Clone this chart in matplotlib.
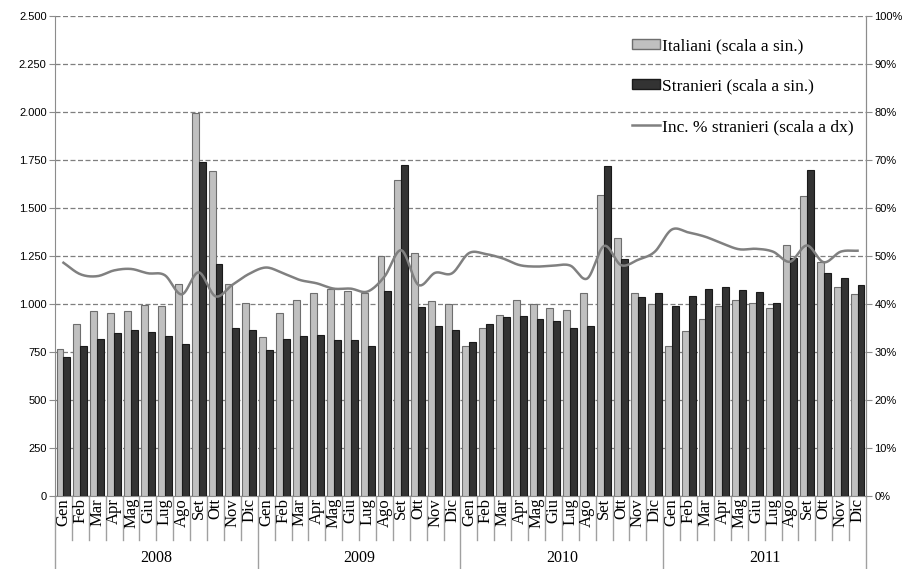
import numpy as np
import matplotlib
matplotlib.use("Agg")
import matplotlib.pyplot as plt
from matplotlib.patches import Patch
from matplotlib.lines import Line2D
from matplotlib.ticker import FuncFormatter, MultipleLocator
import matplotlib.transforms as mtransforms

years = ["2008", "2009", "2010", "2011"]
months = ["Gen", "Feb", "Mar", "Apr", "Mag", "Giu", "Lug", "Ago", "Set", "Ott", "Nov", "Dic"]

italiani = [
    764, 894, 963, 955, 963, 995, 988, 1106, 1993, 1693, 1106, 1003,
    826, 955, 1021, 1056, 1076, 1066, 1057, 1250, 1644, 1264, 1017, 998,
    783, 877, 943, 1021, 1002, 981, 967, 1059, 1569, 1342, 1056, 998,
    783, 858, 920, 988, 1022, 1003, 977, 1309, 1561, 1217, 1090, 1050,
]
stranieri = [
    726, 783, 819, 847, 865, 852, 833, 793, 1741, 1207, 877, 865,
    760, 818, 832, 837, 814, 814, 783, 1069, 1726, 983, 885, 866,
    802, 896, 934, 939, 920, 910, 875, 885, 1720, 1234, 1035, 1056,
    988, 1042, 1076, 1090, 1071, 1061, 1003, 1238, 1696, 1160, 1134, 1099,
]
inc_stranieri = [
    48.6, 46.2, 45.8, 47.0, 47.3, 46.4, 46.0, 42.0, 46.6, 41.6, 44.0, 46.3,
    47.6, 46.4, 45.0, 44.3, 43.2, 43.2, 42.6, 45.7, 51.2, 44.0, 46.5, 46.4,
    50.6, 50.4, 49.5, 48.1, 47.8, 48.0, 48.0, 45.3, 52.1, 48.1, 49.2, 50.9,
    55.5, 54.9, 54.0, 52.6, 51.4, 51.5, 50.9, 48.8, 52.2, 48.7, 50.9, 51.1,
]


def smooth(x, y, n=12):
    # catmull-rom, just to mimic the smoothed excel line
    x = np.asarray(x, float)
    y = np.asarray(y, float)
    px = np.concatenate([[2 * x[0] - x[1]], x, [2 * x[-1] - x[-2]]])
    py = np.concatenate([[2 * y[0] - y[1]], y, [2 * y[-1] - y[-2]]])
    xs, ys = [], []
    t = np.linspace(0, 1, n, endpoint=False)
    for i in range(1, len(px) - 2):
        for arr, out in ((px, xs), (py, ys)):
            p0, p1, p2, p3 = arr[i - 1], arr[i], arr[i + 1], arr[i + 2]
            out.extend(0.5 * (2 * p1 + (-p0 + p2) * t + (2 * p0 - 5 * p1 + 4 * p2 - p3) * t ** 2
                              + (-p0 + 3 * p1 - 3 * p2 + p3) * t ** 3))
    xs.append(x[-1])
    ys.append(y[-1])
    return np.array(xs), np.array(ys)


fig = plt.figure(figsize=(9.12, 5.69), dpi=100)
ax = fig.add_axes([55 / 912, 73 / 569, 811 / 912, 480 / 569])

n = len(italiani)
x = np.arange(n)
w = 0.41
ax.bar(x - w / 2, italiani, width=w, color="#c0c0c0", edgecolor="#6e6e6e", linewidth=0.8, zorder=3)
ax.bar(x + w / 2, stranieri, width=w, color="#333333", edgecolor="#1a1a1a", linewidth=0.8, zorder=3)

ax.set_xlim(-0.5, n - 0.5)
ax.set_ylim(0, 2500)
ax.yaxis.set_major_locator(MultipleLocator(250))
ax.yaxis.set_major_formatter(FuncFormatter(lambda v, p: f"{int(v):,}".replace(",", ".")))
ax.grid(axis="y", linestyle=(0, (4, 2)), color="#7f7f7f", linewidth=0.9, zorder=0)
ax.set_xticks([])
ax.spines["top"].set_visible(False)
for s in ["left", "right", "bottom"]:
    ax.spines[s].set_color("#8c8c8c")
ax.tick_params(axis="y", direction="out", length=4, color="#8c8c8c", labelsize=8, pad=2)
for lab in ax.get_yticklabels():
    lab.set_fontfamily("Liberation Sans")

ax2 = ax.twinx()
ax2.set_ylim(0, 100)
ax2.yaxis.set_major_locator(MultipleLocator(10))
ax2.yaxis.set_major_formatter(FuncFormatter(lambda v, p: f"{int(v)}%"))
ax2.tick_params(axis="y", direction="out", length=4, color="#8c8c8c", labelsize=8, pad=2)
for lab in ax2.get_yticklabels():
    lab.set_fontfamily("Liberation Sans")
for s in ["top", "left", "bottom"]:
    ax2.spines[s].set_visible(False)
ax2.spines["right"].set_color("#8c8c8c")
sx, sy = smooth(x, inc_stranieri)
ax2.plot(sx, sy, color="#808080", linewidth=1.8, zorder=4)

# category axis: month labels, separators, years
trans = mtransforms.blended_transform_factory(ax.transData, ax.transAxes)
sep_color = "#a0a0a0"
for i in range(n):
    ax.text(i, -0.004, months[i % 12], transform=trans, rotation=90, ha="center", va="top",
            fontsize=12, family="Liberation Serif")
for k in range(n + 1):
    xb = k - 0.5
    if k % 12 == 0:
        ax.plot([xb, xb], [0, -0.155], transform=trans, color=sep_color, lw=1, clip_on=False)
    else:
        ax.plot([xb, xb], [0, -0.092], transform=trans, color=sep_color, lw=1, clip_on=False)
for j, yr in enumerate(years):
    ax.text(j * 12 + 5.5, -0.13, yr, transform=trans, ha="center", va="center",
            fontsize=11.5, family="Liberation Serif")

handles = [
    Patch(facecolor="#c0c0c0", edgecolor="#6e6e6e", label="Italiani (scala a sin.)"),
    Patch(facecolor="#333333", edgecolor="#1a1a1a", label="Stranieri (scala a sin.)"),
    Line2D([], [], color="#808080", lw=1.8, label="Inc. % stranieri (scala a dx)"),
]
ax2.legend(handles=handles, loc="upper left", bbox_to_anchor=(0.703, 0.968), frameon=False,
           prop={"family": "Liberation Serif", "size": 12.5}, labelspacing=1.4,
           handlelength=1.6, handleheight=0.5, handletextpad=0.15, borderaxespad=0)

fig.savefig("out.png", dpi=100)
